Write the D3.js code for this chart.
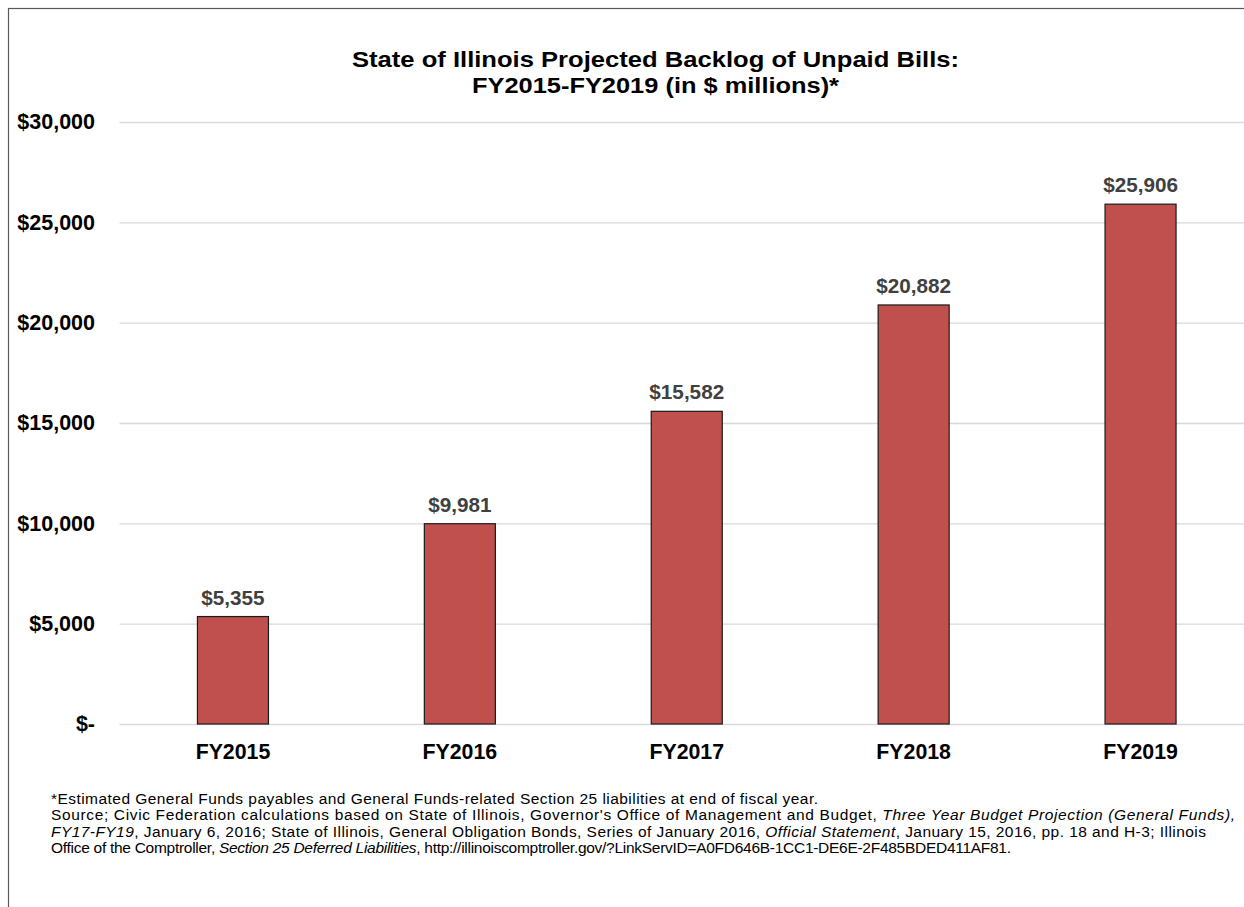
<!DOCTYPE html>
<html>
<head>
<meta charset="utf-8">
<script src="https://cdn.jsdelivr.net/npm/d3@7"></script>
<style>
  html, body { margin: 0; padding: 0; background: #fff; }
  svg { display: block; font-family: "Liberation Sans", Arial, sans-serif; }
</style>
</head>
<body>
<svg id="chart" width="1244" height="907"></svg>
<script>
// ---- data ----
const categories = ["FY2015", "FY2016", "FY2017", "FY2018", "FY2019"];
const backlog = [5355, 9981, 15582, 20882, 25906];
const yTicks = [0, 5000, 10000, 15000, 20000, 25000, 30000];
const titleLines = [
  "State of Illinois Projected Backlog of Unpaid Bills:",
  "FY2015-FY2019 (in $ millions)*"
];
const titleWidths = [607, 367];
// footnote lines: arrays of [text, italic]
const footLines = [
  [["*Estimated General Funds payables and General Funds-related Section 25 liabilities at end of fiscal year.", false]],
  [["Source; Civic Federation calculations based on State of Illinois, Governor's Office of Management and Budget, ", false],
   ["Three Year Budget Projection (General Funds),", true]],
  [["FY17-FY19", true],
   [", January 6, 2016; State of Illinois, General Obligation Bonds, Series of January 2016, ", false],
   ["Official Statement", true],
   [", January 15, 2016, pp. 18 and H-3; Illinois", false]],
  [["Office of the Comptroller, ", false],
   ["Section 25 Deferred Liabilities", true],
   [", http://illinoiscomptroller.gov/?LinkServID=A0FD646B-1CC1-DE6E-2F485BDED411AF81.", false]]
];
const footWidths = [767, 1184, 1155, 960];

const svg = d3.select("#chart");

// outer frame
svg.append("rect")
  .attr("x", 8.5).attr("y", 8.5)
  .attr("width", 1300).attr("height", 1000)
  .attr("fill", "none").attr("stroke", "#595959").attr("stroke-width", 1.2);

const plotLeft = 119.5, plotRight = 1254, plotTop = 122, plotBottom = 724;

const x = d3.scaleBand().domain(categories).range([plotLeft, plotRight])
  .paddingInner(0.687).paddingOuter(0.3435);
const y = d3.scaleLinear().domain([0, 30000]).range([plotBottom, plotTop]);

const fmtVal = d => "$" + d3.format(",")(d);
const fmtTick = d => d === 0 ? "$-" : "$" + d3.format(",")(d);

// gridlines
const grid = svg.append("g")
  .attr("transform", `translate(${plotLeft},0)`)
  .call(d3.axisRight(y).tickValues(yTicks).tickSize(plotRight - plotLeft).tickFormat(""));
grid.select(".domain").remove();
grid.selectAll("line").attr("stroke", "#d9d9d9").attr("stroke-width", 1.3);

// y axis labels
const yAxis = svg.append("g")
  .attr("transform", `translate(95,0)`)
  .call(d3.axisLeft(y).tickValues(yTicks).tickSize(0).tickPadding(0).tickFormat(fmtTick));
yAxis.select(".domain").remove();
yAxis.selectAll("text")
  .attr("font-family", "Liberation Sans, Arial, sans-serif")
  .attr("font-size", 21.5).attr("font-weight", "bold").attr("fill", "#000");

// bars
svg.append("g").selectAll("rect")
  .data(categories)
  .join("rect")
  .attr("x", d => x(d))
  .attr("width", x.bandwidth())
  .attr("y", (d, i) => y(backlog[i]))
  .attr("height", (d, i) => y(0) - y(backlog[i]))
  .attr("fill", "#C0504D")
  .attr("stroke", "#1a1a1a")
  .attr("stroke-width", 1.2);

// value labels
svg.append("g").selectAll("text")
  .data(categories)
  .join("text")
  .attr("x", d => x(d) + x.bandwidth() / 2)
  .attr("y", (d, i) => y(backlog[i]) - 12)
  .attr("text-anchor", "middle")
  .attr("font-size", 20.7).attr("font-weight", "bold").attr("fill", "#404040")
  .text((d, i) => fmtVal(backlog[i]));

// x axis labels
const xAxis = svg.append("g")
  .attr("transform", `translate(0,${plotBottom})`)
  .call(d3.axisBottom(x).tickSize(0).tickPadding(0));
xAxis.select(".domain").remove();
xAxis.selectAll("text")
  .attr("dy", null)
  .attr("y", 35)
  .attr("font-family", "Liberation Sans, Arial, sans-serif")
  .attr("font-size", 21.3).attr("font-weight", "bold").attr("fill", "#000");

// title
svg.append("g").selectAll("text")
  .data(titleLines)
  .join("text")
  .attr("x", (d, i) => 655.5 - titleWidths[i] / 2)
  .attr("y", (d, i) => 67 + i * 26)
  .attr("textLength", (d, i) => titleWidths[i])
  .attr("lengthAdjust", "spacingAndGlyphs")
  .attr("font-size", 22.5).attr("font-weight", "bold").attr("fill", "#000")
  .text(d => d);

// footnote
const foot = svg.append("g");
footLines.forEach((line, i) => {
  const t = foot.append("text")
    .attr("x", 51).attr("y", 804 + i * 16.3)
    .attr("font-size", 15.5).attr("fill", "#000")
    .attr("textLength", footWidths[i])
    .attr("lengthAdjust", "spacing");
  line.forEach(([s, it]) => {
    t.append("tspan").attr("font-style", it ? "italic" : "normal").text(s);
  });
});
</script>
</body>
</html>
